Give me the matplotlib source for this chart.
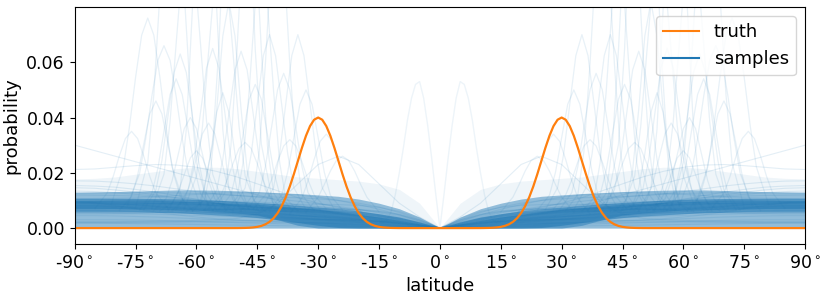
import numpy as np
import matplotlib
matplotlib.use('Agg')
import matplotlib.pyplot as plt
from matplotlib.lines import Line2D

# everything is symmetric about the equator, so only one hemisphere is stored

# truth density
truth_lat = [0, 8, 10, 11, 12, 13, 14, 15, 16, 17, 18, 19, 20, 21, 22, 23, 24, 25, 26, 27, 28, 29,
             30, 31, 32, 33, 34, 35, 36, 37, 38, 39, 40, 41, 42, 43, 44, 45, 46, 47, 48, 49, 50, 52, 90]
truth_val = [0, 0, 0.00001, 0.00003, 0.00006, 0.00012, 0.00024, 0.00044, 0.00079, 0.00136, 0.00225,
             0.00356, 0.00541, 0.00792, 0.01112, 0.01501, 0.01947, 0.02426, 0.02904, 0.03341, 0.03692,
             0.03921, 0.04000, 0.03921, 0.03692, 0.03341, 0.02904, 0.02426, 0.01947, 0.01501, 0.01112,
             0.00792, 0.00541, 0.00356, 0.00225, 0.00136, 0.00079, 0.00044, 0.00024, 0.00012, 0.00006,
             0.00003, 0.00001, 0, 0]

# 5 degree grid for the sample band and the broad sample curves (values in 1e-4)
grid_lat = [0, 5, 10, 15, 20, 25, 30, 35, 40, 45, 50, 55, 60, 65, 70, 75, 80, 85, 90]

# density of the overlapping samples: faint haze, mid band, core and inner core
haze_hi = [0, 90, 140, 160, 170, 175, 180, 185, 195, 205, 215, 220, 220, 215, 205, 195, 185, 180, 178]
mid_hi = [0, 40, 70, 90, 105, 115, 120, 125, 128, 132, 135, 137, 138, 138, 136, 134, 132, 131, 130]
core_lo = [0, 0, 0, 0, 0, 2, 10, 20, 30, 38, 44, 48, 52, 55, 57, 58, 58, 58, 58]
core_hi = [0, 22, 40, 52, 62, 70, 76, 82, 88, 93, 97, 101, 104, 106, 107, 108, 108, 108, 108]
inner_lo = [0, 0, 0, 0, 0, 0, 0, 10, 30, 47, 55, 60, 65, 67, 68, 69, 70, 70, 70]
inner_hi = [0, 15, 28, 40, 50, 60, 68, 74, 80, 86, 90, 93, 96, 98, 100, 100, 100, 100, 100]

samples = [
    [0, 20, 35, 45, 52, 58, 63, 68, 72, 76, 80, 83, 86, 88, 90, 91, 92, 92, 92],
    [0, 15, 28, 38, 46, 52, 58, 64, 70, 76, 82, 88, 93, 97, 100, 102, 103, 104, 104],
    [0, 25, 45, 58, 66, 72, 76, 80, 84, 88, 92, 95, 98, 100, 101, 100, 98, 96, 95],
    [0, 10, 18, 25, 31, 36, 41, 46, 51, 56, 61, 65, 69, 72, 75, 77, 78, 79, 79],
    [0, 30, 50, 62, 68, 70, 70, 70, 72, 76, 82, 90, 98, 106, 112, 116, 118, 119, 120],
    [0, 12, 22, 30, 36, 40, 43, 45, 47, 49, 52, 56, 60, 65, 70, 74, 77, 79, 80],
    [0, 18, 34, 48, 60, 70, 78, 85, 90, 94, 96, 96, 94, 91, 88, 86, 84, 83, 83],
    [0, 8, 15, 21, 26, 30, 33, 36, 38, 40, 42, 44, 46, 48, 50, 52, 53, 54, 54],
    [0, 22, 40, 55, 67, 78, 88, 97, 105, 112, 118, 122, 125, 127, 128, 128, 127, 126, 126],
    [0, 5, 10, 15, 20, 25, 30, 35, 40, 45, 50, 55, 60, 64, 68, 71, 73, 74, 74],
    [0, 28, 48, 60, 66, 68, 68, 67, 66, 66, 67, 69, 72, 76, 80, 84, 87, 89, 90],
    [0, 14, 26, 36, 44, 50, 55, 60, 65, 72, 80, 90, 100, 110, 120, 130, 138, 144, 146],
    [0, 10, 18, 24, 28, 30, 31, 32, 34, 37, 41, 46, 52, 58, 64, 68, 71, 72, 73],
    [0, 35, 60, 75, 82, 85, 86, 86, 85, 84, 83, 83, 84, 86, 88, 90, 91, 92, 92],
    [0, 6, 12, 18, 23, 28, 33, 38, 43, 48, 54, 60, 66, 72, 78, 84, 88, 90, 91],
    [0, 20, 36, 48, 56, 60, 62, 62, 60, 58, 56, 55, 55, 56, 58, 60, 62, 63, 63],
    [0, 4, 8, 11, 14, 16, 18, 20, 22, 25, 28, 31, 34, 37, 40, 42, 44, 45, 45],
    [0, 25, 48, 68, 85, 100, 112, 120, 125, 128, 128, 126, 122, 118, 114, 110, 108, 107, 106],
    [0, 12, 24, 35, 45, 54, 62, 70, 78, 85, 92, 98, 104, 110, 116, 122, 128, 132, 134],
    [0, 16, 30, 42, 52, 60, 66, 70, 72, 72, 70, 66, 62, 58, 55, 53, 52, 51, 51],
    [0, 3, 6, 9, 12, 15, 18, 21, 24, 27, 30, 34, 40, 48, 58, 70, 82, 92, 96],
    [0, 30, 56, 76, 90, 100, 106, 110, 112, 114, 118, 124, 132, 142, 152, 160, 166, 170, 171],
    [0, 2, 4, 6, 8, 10, 12, 14, 16, 18, 20, 22, 24, 26, 28, 29, 30, 30, 30],
    [0, 9, 17, 24, 30, 35, 40, 46, 54, 64, 76, 90, 104, 118, 130, 140, 148, 152, 154],
    [0, 2, 3, 4, 5, 6, 7, 8, 9, 10, 11, 12, 13, 14, 15, 16, 17, 18, 18],
    [0, 12, 20, 25, 28, 30, 30, 29, 28, 27, 26, 25, 24, 23, 22, 21, 20, 20, 20],
    [0, 18, 32, 42, 50, 55, 58, 60, 62, 66, 72, 80, 88, 94, 98, 100, 100, 99, 98],
    [0, 8, 16, 24, 32, 40, 48, 56, 62, 66, 68, 68, 66, 64, 62, 62, 63, 64, 64],
    [0, 10, 20, 30, 40, 52, 66, 82, 100, 120, 140, 160, 180, 200, 220, 240, 260, 280, 300],
    [0, 15, 30, 45, 60, 75, 90, 110, 135, 160, 185, 205, 220, 228, 230, 226, 220, 214, 212],
    [0, 40, 90, 160, 230, 260, 230, 160, 90, 50, 35, 30, 28, 26, 25, 24, 24, 24, 24],
]

# narrow peaks of single samples: centre latitude and values around it (1e-4)
peak_offset = [-9, -6, -4.5, -3, -1.5, 0, 1.5, 3, 4.5, 6, 9]
peak_center = [52, 49, 56, 42, 64, 68, 53.5, 70, 45.5, 38.5, 33, 57, 61.5, 76, 35,
               47, 58, 62, 44, 66, 50, 40, 54, 72, 37, 60, 48, 28, 24, 65]
peak_vals = [
    [61, 103, 210, 430, 695, 820, 695, 430, 210, 103, 61],
    [66, 138, 249, 412, 572, 640, 572, 412, 249, 138, 66],
    [66, 140, 252, 418, 580, 650, 580, 418, 252, 140, 66],
    [67, 146, 268, 448, 624, 700, 624, 448, 268, 146, 67],
    [66, 137, 245, 406, 563, 630, 563, 406, 245, 137, 66],
    [82, 198, 323, 476, 607, 660, 607, 476, 323, 198, 82],
    [61, 84, 145, 269, 419, 490, 419, 269, 145, 84, 61],
    [64, 114, 190, 303, 413, 460, 413, 303, 190, 114, 64],
    [65, 122, 210, 339, 466, 520, 466, 339, 210, 122, 65],
    [66, 128, 223, 364, 501, 560, 501, 364, 223, 128, 66],
    [65, 119, 203, 327, 448, 500, 448, 327, 203, 119, 65],
    [64, 103, 164, 254, 342, 380, 342, 254, 164, 103, 64],
    [64, 106, 171, 266, 360, 400, 360, 266, 171, 106, 64],
    [71, 127, 187, 261, 324, 350, 324, 261, 187, 127, 71],
    [67, 146, 268, 448, 624, 700, 624, 448, 268, 146, 67],
    [62, 127, 298, 644, 1062, 1260, 1062, 644, 298, 127, 62],
    [62, 144, 357, 791, 1313, 1560, 1313, 791, 357, 144, 62],
    [71, 195, 385, 667, 942, 1060, 942, 667, 385, 195, 71],
    [61, 110, 238, 498, 812, 960, 812, 498, 238, 110, 61],
    [74, 236, 483, 849, 1207, 1360, 1207, 849, 483, 236, 74],
    [80, 303, 645, 1153, 1648, 1860, 1648, 1153, 645, 303, 80],
    [62, 122, 278, 596, 979, 1160, 979, 596, 278, 122, 62],
    [70, 188, 369, 637, 898, 1010, 898, 637, 369, 188, 70],
    [86, 221, 367, 545, 698, 760, 698, 545, 367, 221, 86],
    [70, 120, 174, 240, 297, 320, 297, 240, 174, 120, 70],
    [62, 90, 132, 194, 254, 280, 254, 194, 132, 90, 62],
    [69, 118, 170, 233, 288, 310, 288, 233, 170, 118, 69],
    [51, 109, 171, 248, 314, 340, 314, 248, 171, 109, 51],
    [58, 112, 157, 206, 245, 260, 245, 206, 157, 112, 58],
    [65, 125, 216, 351, 483, 540, 483, 351, 216, 125, 65],
]

# the one sample with a narrow bump next to the equator
bump_lat = [0, 1, 2, 3, 4, 5, 6, 7, 8, 9, 10, 11, 12, 13, 14, 15, 30, 60, 90]
bump_val = [0, 0.012, 0.025, 0.037, 0.047, 0.053, 0.052, 0.047, 0.039, 0.029, 0.020, 0.012,
            0.006, 0.003, 0.002, 0.002, 0.002, 0.002, 0.002]

xticks = np.arange(-90, 91, 15)


def mirror(lat, val):
    lat = np.asarray(lat, dtype=float)
    val = np.asarray(val, dtype=float)
    return np.concatenate([-lat[::-1], lat[1:]]), np.concatenate([val[::-1], val[1:]])


fig, ax = plt.subplots(figsize=(8.3, 3.04), dpi=100)
fig.subplots_adjust(left=0.090, right=0.970, bottom=0.197, top=0.977)

# sample density band
x, lo = mirror(grid_lat, np.zeros(len(grid_lat)))
for bot, top, a in [(None, haze_hi, 0.07), (None, mid_hi, 0.45),
                    (core_lo, core_hi, 0.50), (inner_lo, inner_hi, 0.45)]:
    _, hi = mirror(grid_lat, np.array(top) * 1e-4)
    low = lo if bot is None else mirror(grid_lat, np.array(bot) * 1e-4)[1]
    ax.fill_between(x, low, hi, color='C0', alpha=a, lw=0)

for s in samples:
    x, y = mirror(grid_lat, np.array(s) * 1e-4)
    ax.plot(x, y, color='C0', alpha=0.12, lw=0.8)

for c, v in zip(peak_center, peak_vals):
    px = c + np.array(peak_offset)
    for sign in (-1, 1):
        ax.plot(sign * px, np.array(v) * 1e-4, color='C0', alpha=0.1, lw=0.9)

x, y = mirror(bump_lat, bump_val)
ax.plot(x, y, color='C0', alpha=0.08, lw=1)

x, y = mirror(truth_lat, truth_val)
ax.plot(x, y, color='C1', lw=1.6)

ax.set_xlim(-90, 90)
ax.set_ylim(-0.0058, 0.08)
ax.set_xticks(xticks)
ax.set_xticklabels([f"{v}$^\\circ$" for v in xticks])
ax.set_yticks([0, 0.02, 0.04, 0.06])
ax.tick_params(labelsize=12.5)
ax.set_xlabel('latitude', fontsize=13)
ax.set_ylabel('probability', fontsize=13)

handles = [Line2D([], [], color='C1', label='truth'),
           Line2D([], [], color='C0', label='samples')]
ax.legend(handles=handles, loc='upper right', fontsize=13)

fig.savefig('out.png')
